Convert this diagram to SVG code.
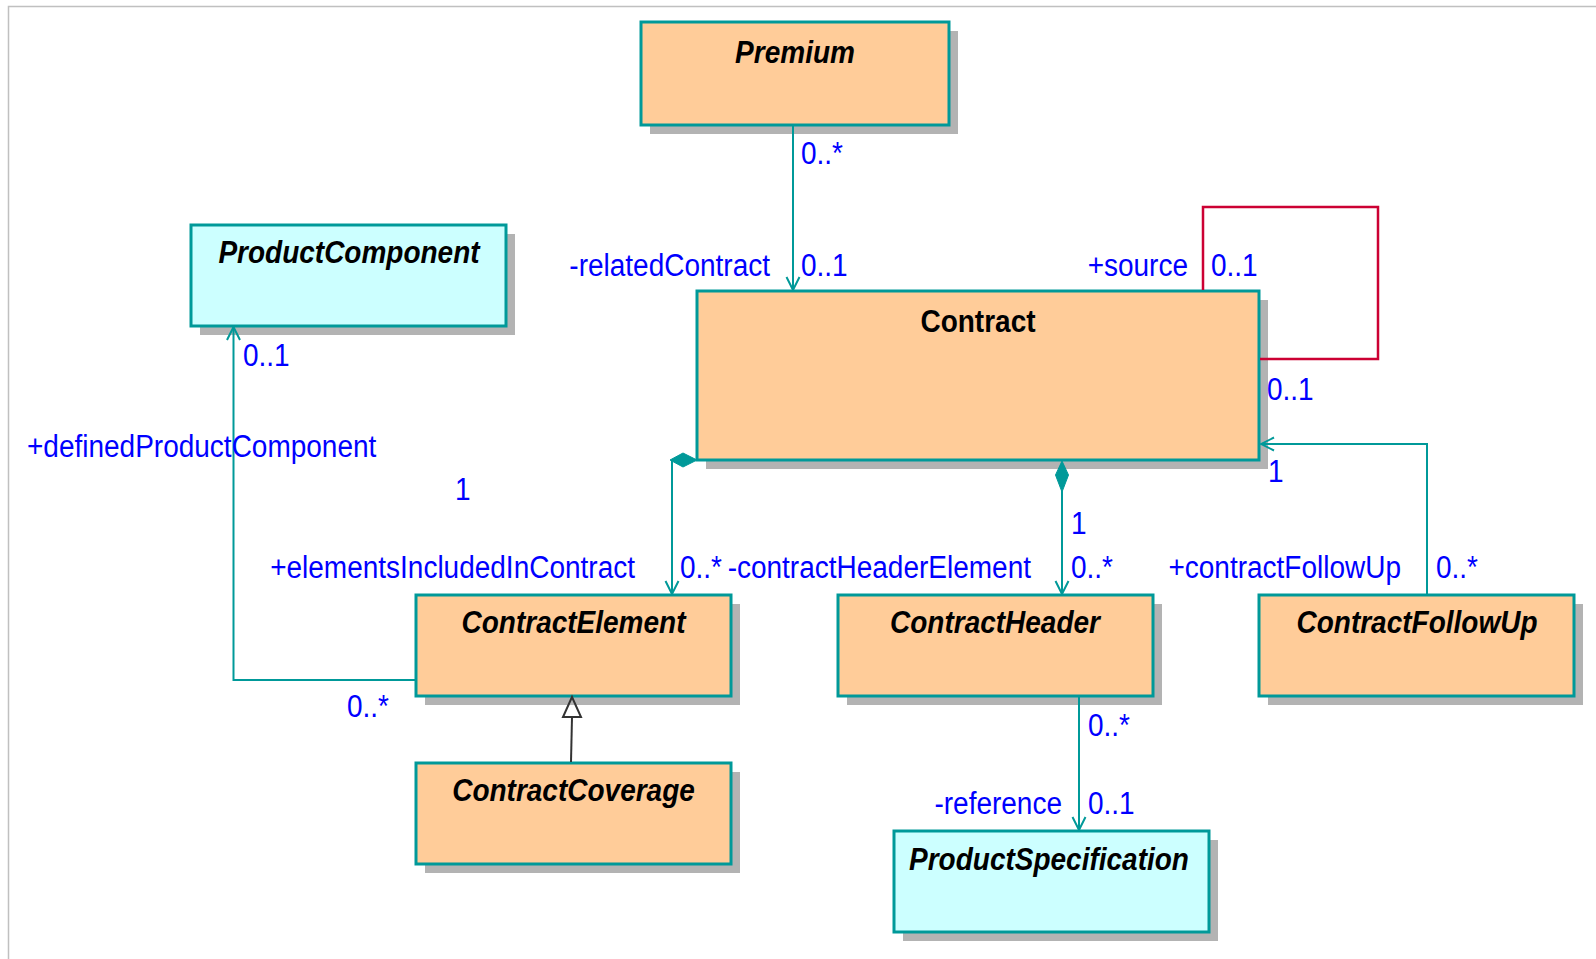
<svg xmlns="http://www.w3.org/2000/svg" width="1596" height="959" viewBox="0 0 1596 959">
<style>
.shadow{fill:#b3b3b3;stroke:none}
.peach{fill:#ffcc99;stroke:#009999;stroke-width:3}
.cyan{fill:#ccffff;stroke:#009999;stroke-width:3}
.name{font-family:"Liberation Sans",Arial,sans-serif;font-size:28px;font-weight:bold;font-style:italic;fill:#000;text-anchor:middle}
.name2{font-family:"Liberation Sans",Arial,sans-serif;font-size:28px;font-weight:bold;fill:#000;text-anchor:middle}
.lbl{font-family:"Liberation Sans",Arial,sans-serif;font-size:28px;fill:#0000ff}
.end{text-anchor:end}
.assoc{fill:none;stroke:#009999;stroke-width:2}
.self{fill:none;stroke:#cc0033;stroke-width:2.5}
.gen{fill:none;stroke:#333333;stroke-width:2}
.frame{stroke:#c0c0c0;stroke-width:1.5;fill:none}
</style>
<defs>
<marker id="open" markerUnits="userSpaceOnUse" markerWidth="16" markerHeight="16" refX="14" refY="8" orient="auto">
<path d="M1,1.5 L14,8 L1,14.5" fill="none" stroke="#009999" stroke-width="2"/>
</marker>
</defs>
<rect x="0" y="0" width="1596" height="959" fill="#ffffff"/>
<path class="frame" d="M8.5,959 L8.5,6.5 L1596,6.5"/>

<g id="Premium">
<rect class="shadow" x="650" y="31" width="308" height="103"/>
<rect class="peach" x="641" y="22" width="308" height="103"/>
<text class="name" transform="translate(795,63) scale(1,1.1)">Premium</text>
</g>
<g id="Contract">
<rect class="shadow" x="706" y="300" width="562" height="169"/>
<rect class="peach" x="697" y="291" width="562" height="169"/>
<text class="name2" transform="translate(978,332) scale(1,1.1)">Contract</text>
</g>
<g id="ProductComponent">
<rect class="shadow" x="200" y="234" width="315" height="101"/>
<rect class="cyan" x="191" y="225" width="315" height="101"/>
<text class="name" transform="translate(349,263) scale(1,1.1)">ProductComponent</text>
</g>
<g id="ContractElement">
<rect class="shadow" x="425" y="604" width="315" height="101"/>
<rect class="peach" x="416" y="595" width="315" height="101"/>
<text class="name" transform="translate(573.5,633) scale(1,1.1)">ContractElement</text>
</g>
<g id="ContractHeader">
<rect class="shadow" x="847" y="604" width="315" height="101"/>
<rect class="peach" x="838" y="595" width="315" height="101"/>
<text class="name" transform="translate(995,633) scale(1,1.1)">ContractHeader</text>
</g>
<g id="ContractFollowUp">
<rect class="shadow" x="1268" y="604" width="315" height="101"/>
<rect class="peach" x="1259" y="595" width="315" height="101"/>
<text class="name" transform="translate(1417,633) scale(1,1.1)">ContractFollowUp</text>
</g>
<g id="ContractCoverage">
<rect class="shadow" x="425" y="772" width="315" height="101"/>
<rect class="peach" x="416" y="763" width="315" height="101"/>
<text class="name" transform="translate(573.5,801) scale(1,1.1)">ContractCoverage</text>
</g>
<g id="ProductSpecification">
<rect class="shadow" x="903" y="840" width="315" height="101"/>
<rect class="cyan" x="894" y="831" width="315" height="101"/>
<text class="name" transform="translate(1049,870) scale(1,1.1)">ProductSpecification</text>
</g>

<g id="connectors">
<line class="assoc" x1="793" y1="125" x2="793" y2="290" marker-end="url(#open)"/>
<polyline class="self" points="1203,290 1203,207 1378,207 1378,359 1260,359"/>
<polyline class="assoc" points="1427,594 1427,444 1261,444" marker-end="url(#open)"/>
<polyline class="assoc" points="415,680 233.5,680 233.5,327" marker-end="url(#open)"/>
<line class="assoc" x1="672" y1="460" x2="672" y2="594" marker-end="url(#open)"/>
<polygon points="670,460 683,453 697,460 683,467" fill="#009999" stroke="#009999" stroke-width="1"/>
<line class="assoc" x1="1062" y1="490" x2="1062" y2="594" marker-end="url(#open)"/>
<polygon points="1062,461 1068.5,475 1062,492 1055.5,475" fill="#009999" stroke="#009999" stroke-width="1"/>
<line class="assoc" x1="1079" y1="697" x2="1079" y2="830" marker-end="url(#open)"/>
<line class="gen" x1="571" y1="762" x2="572" y2="717"/>
<polygon class="gen" points="572,697 563,717 581,717" fill="#ffffff"/>
</g>

<g id="labels">
<text class="lbl" transform="translate(801,164) scale(1,1.1)">0..*</text>
<text class="lbl end" transform="translate(770,276) scale(1,1.1)">-relatedContract</text>
<text class="lbl" transform="translate(801,276) scale(1,1.1)">0..1</text>
<text class="lbl end" transform="translate(1188,276) scale(1,1.1)">+source</text>
<text class="lbl" transform="translate(1211,276) scale(1,1.1)">0..1</text>
<text class="lbl" transform="translate(1267,400) scale(1,1.1)">0..1</text>
<text class="lbl" transform="translate(1268,482) scale(1,1.1)">1</text>
<text class="lbl end" transform="translate(1401,578) scale(1,1.1)">+contractFollowUp</text>
<text class="lbl" transform="translate(1436,578) scale(1,1.1)">0..*</text>
<text class="lbl" transform="translate(1071,534) scale(1,1.1)">1</text>
<text class="lbl" transform="translate(1071,578) scale(1,1.1)">0..*</text>
<text class="lbl end" transform="translate(1031,578) scale(1,1.1)">-contractHeaderElement</text>
<text class="lbl" transform="translate(680,578) scale(1,1.1)">0..*</text>
<text class="lbl end" transform="translate(635,578) scale(1,1.1)">+elementsIncludedInContract</text>
<text class="lbl" transform="translate(455,500) scale(1,1.1)">1</text>
<text class="lbl" transform="translate(27,457) scale(1,1.1)">+definedProductComponent</text>
<text class="lbl" transform="translate(243,366) scale(1,1.1)">0..1</text>
<text class="lbl" transform="translate(347,717) scale(1,1.1)">0..*</text>
<text class="lbl" transform="translate(1088,736) scale(1,1.1)">0..*</text>
<text class="lbl" transform="translate(1088,814) scale(1,1.1)">0..1</text>
<text class="lbl end" transform="translate(1062,814) scale(1,1.1)">-reference</text>
</g>
</svg>
